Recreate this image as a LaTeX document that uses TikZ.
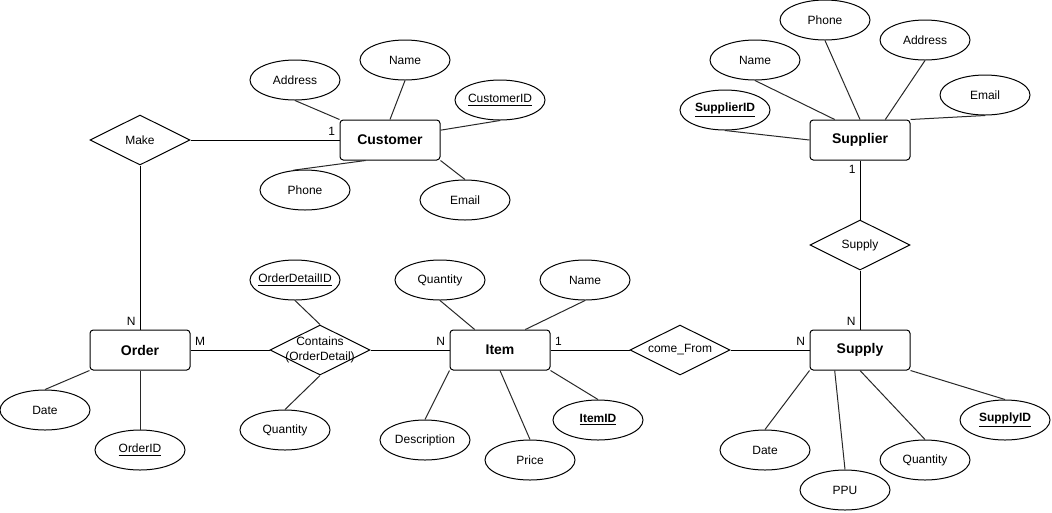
\documentclass[tikz,border=0pt]{standalone}
\usepackage{fontspec}
\setmainfont{Liberation Sans}
\usetikzlibrary{shapes.geometric}
\definecolor{erdline}{RGB}{40,40,40}
\newcommand{\pk}[1]{\underline{#1}}

\begin{document}
\begin{tikzpicture}[x=0.75pt,y=-0.75pt,line width=0.75pt,
    font=\fontsize{9}{11.25}\selectfont,
    ent/.style={draw,rounded corners=2.5pt,minimum width=75pt,minimum height=30pt,
                inner sep=0pt,font=\fontsize{10.5}{12}\selectfont\bfseries},
    attr/.style={draw,ellipse,minimum width=67.5pt,minimum height=30pt,
                 inner xsep=-8pt,inner ysep=0pt},
    rel/.style={draw,diamond,aspect=2,minimum width=75pt,minimum height=37.5pt,
                inner xsep=-30pt,inner ysep=-12pt,align=center},
    card/.style={inner sep=3pt}]
\useasboundingbox (0,0) rectangle (1052,512);
\node[ent] (customer) at (390,140) {Customer};
\node[ent] (order) at (140,350) {Order};
\node[ent] (item) at (500,350) {Item};
\node[ent] (supply) at (860,350) {Supply};
\node[ent] (supplier) at (860,140) {Supplier};
\node[rel] (make) at (140,140) {Make};
\node[rel] (contains) at (320,350) {Contains\\(OrderDetail)};
\node[rel] (comefrom) at (680,350) {come\_From};
\node[rel] (supplyrel) at (860,245) {Supply};
\node[attr] (cuaddr) at (295,80) {Address};
\node[attr] (cuname) at (405,60) {Name};
\node[attr] (cuid) at (500,100) {\pk{CustomerID}};
\node[attr] (cuphone) at (305,190) {Phone};
\node[attr] (cuemail) at (465,200) {Email};
\node[attr] (ordate) at (45,410) {Date};
\node[attr] (orid) at (140,450) {\pk{OrderID}};
\node[attr] (odid) at (295,280) {\pk{OrderDetailID}};
\node[attr] (odqty) at (285,430) {Quantity};
\node[attr] (itqty) at (440,280) {Quantity};
\node[attr] (itname) at (585,280) {Name};
\node[attr] (itdesc) at (425,440) {Description};
\node[attr] (itprice) at (530,460) {Price};
\node[attr] (itid) at (598,420) {\pk{\textbf{ItemID}}};
\node[attr] (sydate) at (765,450) {Date};
\node[attr] (syppu) at (845,490) {PPU};
\node[attr] (syqty) at (925,460) {Quantity};
\node[attr] (syid) at (1005,420) {\pk{\textbf{SupplyID}}};
\node[attr] (spid) at (725,110) {\pk{\textbf{SupplierID}}};
\node[attr] (spname) at (755,60) {Name};
\node[attr] (spphone) at (825,20) {Phone};
\node[attr] (spaddr) at (925,40) {Address};
\node[attr] (spemail) at (985,95) {Email};
\draw (make) -- node[card,pos=1,anchor=south east] {1} (customer);
\draw (make) -- node[card,pos=1,anchor=south east] {N} (order);
\draw (order) -- node[card,pos=0,anchor=south west] {M} (contains);
\draw (contains) -- node[card,pos=1,anchor=south east] {N} (item);
\draw (item) -- node[card,pos=0,anchor=south west] {1} (comefrom);
\draw (comefrom) -- node[card,pos=1,anchor=south east] {N} (supply);
\draw (supplier) -- node[card,pos=0,anchor=north east] {1} (supplyrel);
\draw (supplyrel) -- node[card,pos=1,anchor=south east] {N} (supply);
\draw[erdline] (cuaddr.south) -- (customer.north west);
\draw[erdline] (cuname.south) -- (customer.north);
\draw[erdline] (cuid.south) -- (customer.11);
\draw[erdline] (cuphone.120) -- (customer.-140);
\draw[erdline] (cuemail.north) -- (customer.south east);
\draw[erdline] (ordate.north) -- (order.south west);
\draw[erdline] (orid.north) -- (order.south);
\draw[erdline] (odid.south) -- (contains.north);
\draw[erdline] (odqty.north) -- (contains.south);
\draw[erdline] (itqty.south) -- (item.141);
\draw[erdline] (itname.south) -- (item.39);
\draw[erdline] (itdesc.north) -- (item.south west);
\draw[erdline] (itprice.north) -- (item.south);
\draw[erdline] (itid.north) -- (item.south east);
\draw[erdline] (sydate.north) -- (supply.south west);
\draw[erdline] (syppu.north) -- (supply.-141);
\draw[erdline] (syqty.north) -- (supply.south);
\draw[erdline] (syid.north) -- (supply.south east);
\draw[erdline] (spid.south) -- (supplier.west);
\draw[erdline] (spname.south) -- (supplier.141);
\draw[erdline] (spphone.south) -- (supplier.north);
\draw[erdline] (spaddr.south) -- (supplier.39);
\draw[erdline] (spemail.south) -- (supplier.north east);
\end{tikzpicture}
\end{document}
